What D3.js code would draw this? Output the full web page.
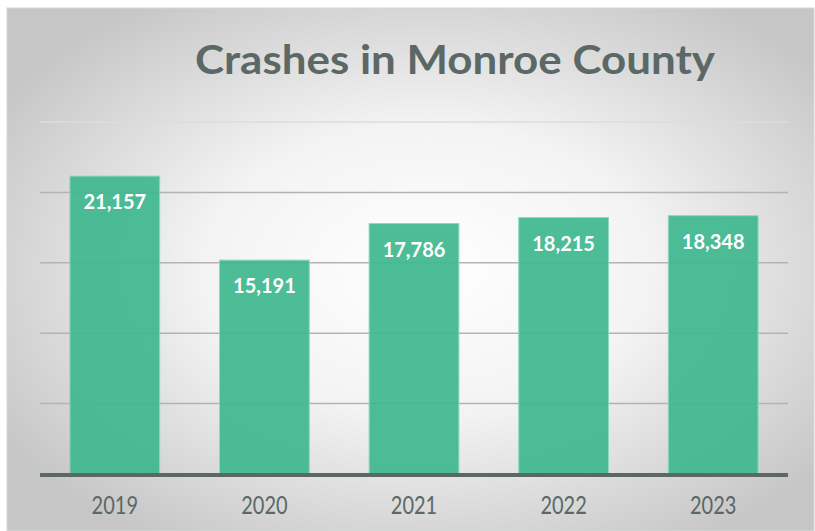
<!DOCTYPE html>
<html lang="en">
<head>
  <meta charset="UTF-8" />
  <title>Crashes in Monroe County</title>
  <style>
    body { margin: 0; background: #fff; }
  </style>
</head>
<body>
  <div id="chart"></div>
  <script src="https://d3js.org/d3.v7.min.js"></script>
  <script>
    // data
    var years = ["2019", "2020", "2021", "2022", "2023"]
    var crashes = [21157, 15191, 17786, 18215, 18348]
    var gridTicks = [5000, 10000, 15000, 20000, 25000]

    var W = 815, H = 531
    var margin = { left: 40, right: 27, top: 122, bottom: 57 }
    var font = "Lato, 'Open Sans', sans-serif"

    var svg = d3.select("#chart").append("svg")
      .attr("width", W)
      .attr("height", H)

    var defs = svg.append("defs")
    var grad = defs.append("radialGradient")
      .attr("id", "bg")
      .attr("cx", "52%").attr("cy", "50%").attr("r", "62%")
    grad.append("stop").attr("offset", "0%").attr("stop-color", "#ffffff")
    grad.append("stop").attr("offset", "45%").attr("stop-color", "#f3f3f3")
    grad.append("stop").attr("offset", "100%").attr("stop-color", "#c6c6c6")

    // panel
    svg.append("rect")
      .attr("x", 7).attr("y", 8)
      .attr("width", W - 8).attr("height", H - 8)
      .attr("fill", "url(#bg)")
      .attr("stroke", "#d4d8d8")
      .attr("stroke-width", 1)

    var x = d3.scaleBand()
      .domain(years)
      .range([margin.left, W - margin.right])
      .paddingInner(0.4)
      .paddingOuter(0.2)

    var y = d3.scaleLinear()
      .domain([0, 25000])
      .range([H - margin.bottom, H - margin.bottom - 352])

    // gridlines
    svg.append("g")
      .selectAll("line")
      .data(gridTicks)
      .enter().append("line")
      .attr("x1", margin.left)
      .attr("x2", W - margin.right)
      .attr("y1", function (d) { return y(d) })
      .attr("y2", function (d) { return y(d) })
      .attr("stroke", function (d) { return d == 25000 ? "#dcdcdc" : "#b3b3b3" })
      .attr("stroke-width", 1.5)

    // bars
    svg.append("g")
      .selectAll("rect")
      .data(crashes)
      .enter().append("rect")
      .attr("x", function (d, i) { return x(years[i]) })
      .attr("y", function (d) { return y(d) })
      .attr("width", x.bandwidth())
      .attr("height", function (d) { return y(0) - y(d) })
      .attr("fill", "#40b88f")
      .attr("fill-opacity", 0.93)
      .attr("stroke", "#8ed8be")
      .attr("stroke-width", 1)

    // value labels
    svg.append("g")
      .selectAll("text")
      .data(crashes)
      .enter().append("text")
      .attr("x", function (d, i) { return x(years[i]) + x.bandwidth() / 2 })
      .attr("y", function (d) { return y(d) + 33 })
      .attr("text-anchor", "middle")
      .attr("fill", "#ffffff")
      .style("font-family", font)
      .style("font-weight", "bold")
      .style("font-size", "20px")
      .text(function (d) { return d3.format(",")(d) })

    // baseline
    svg.append("line")
      .attr("x1", margin.left)
      .attr("x2", W - margin.right)
      .attr("y1", y(0) + 1)
      .attr("y2", y(0) + 1)
      .attr("stroke", "#5b6866")
      .attr("stroke-width", 4)

    // x axis labels (text is a bit taller than wide in the original)
    var xAxis = svg.append("g")
      .attr("transform", "translate(0," + (y(0) + 40) + ")")
      .call(d3.axisBottom(x).tickSize(0).tickPadding(0))
    xAxis.select(".domain").remove()
    xAxis.selectAll("text")
      .attr("y", 0)
      .attr("dy", 0)
      .attr("transform", "scale(1,1.22)")
      .attr("fill", "#5b6866")
      .style("font-family", font)
      .style("font-size", "20px")

    // title
    svg.append("text")
      .attr("x", 455)
      .attr("y", 74)
      .attr("text-anchor", "middle")
      .attr("textLength", 520)
      .attr("lengthAdjust", "spacingAndGlyphs")
      .attr("fill", "#5b6866")
      .style("font-family", font)
      .style("font-weight", "bold")
      .style("font-size", "40px")
      .text("Crashes in Monroe County")
  </script>
</body>
</html>
